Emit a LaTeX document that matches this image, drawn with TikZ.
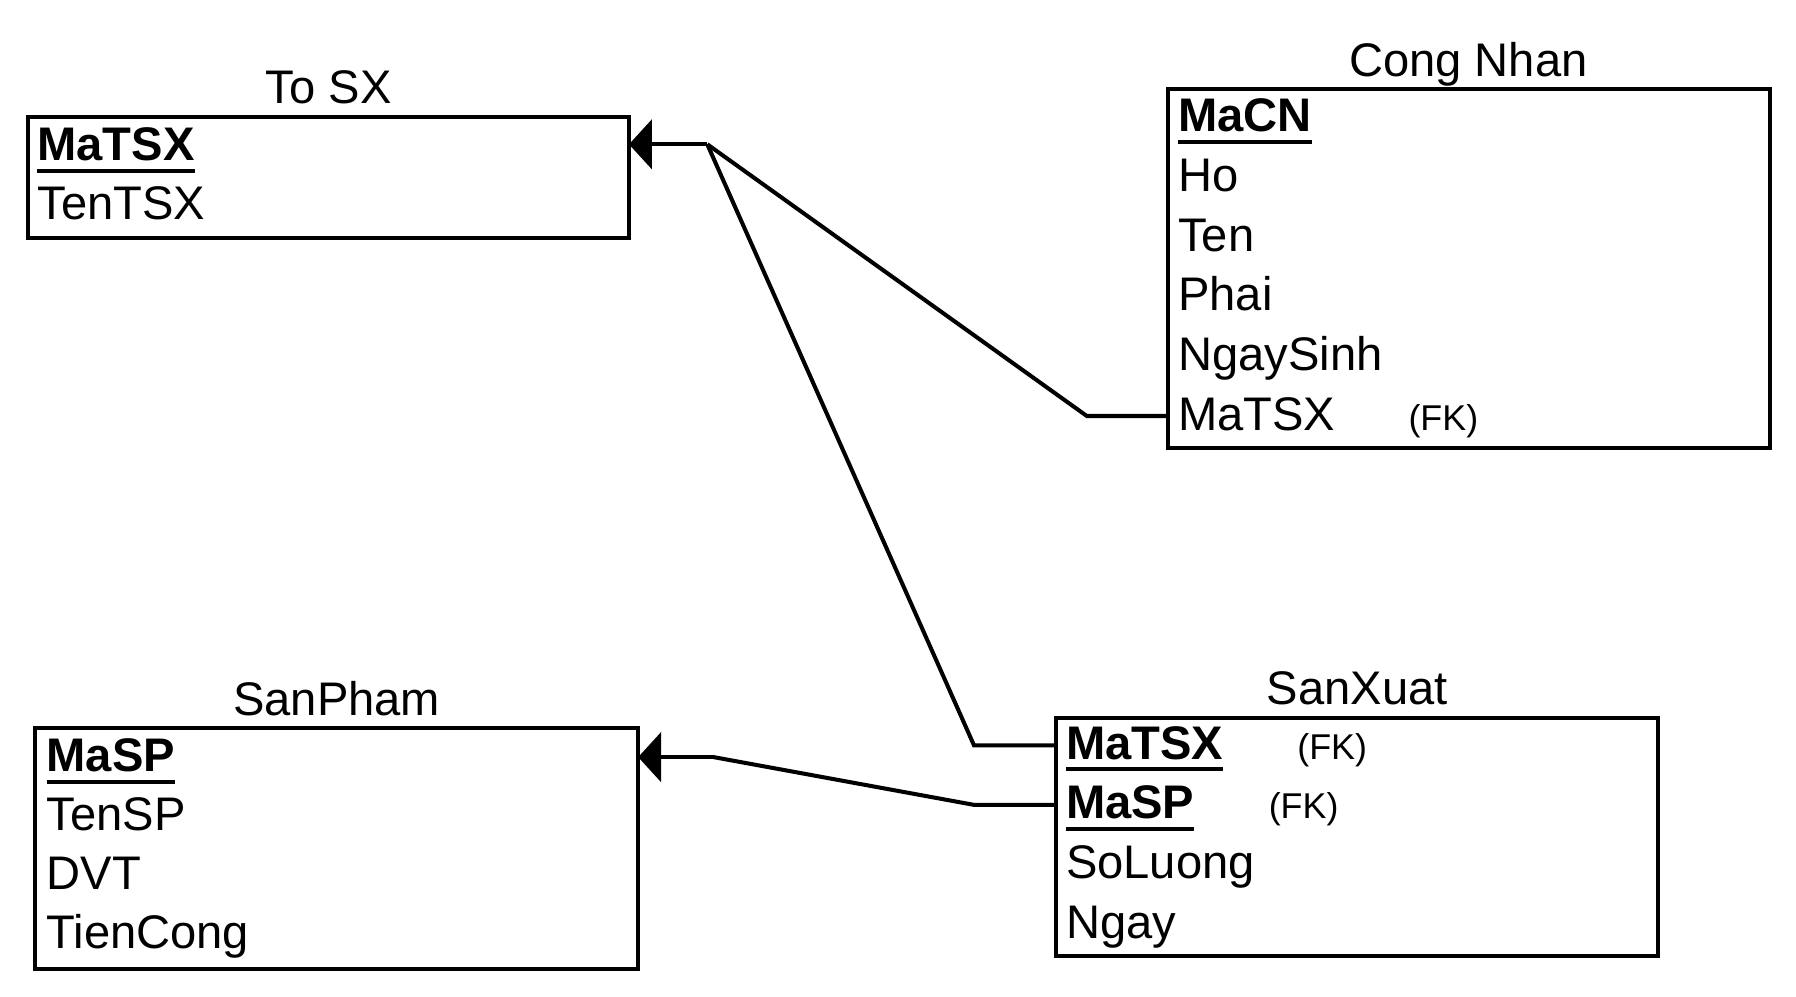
\documentclass[tikz,border=0pt]{standalone}
\usepackage{fontspec}
\setmainfont{Liberation Sans}
\usepackage{tikz}
\usetikzlibrary{positioning,arrows.meta}

\newsavebox{\pkbox}
\newcommand{\pkey}[1]{\sbox{\pkbox}{\textbf{#1}}\rlap{\rule[-3pt]{\wd\pkbox}{1pt}}\usebox{\pkbox}}

\tikzset{
  every node/.style={font=\fontsize{11.7}{14}\selectfont},
  tablebox/.style={draw, line width=1pt, inner sep=0pt, outer sep=0pt},
  title/.style={anchor=base, inner sep=0pt},
  attr/.style={anchor=base west, inner sep=0pt, text height=9pt, text depth=2pt},
  fknote/.style={anchor=base west, inner sep=0pt, font=\fontsize{8.9}{10}\selectfont},
  link/.style={line width=1pt},
  fkarrow/.style={link, -{Triangle[length=2mm,width=4.3mm]}}
}

\begin{document}
\begin{tikzpicture}[x=0.01cm, y=-0.01cm]
  \useasboundingbox (0,0) rectangle (1568,870);

  % Tables
  \node[tablebox, minimum width=5.24cm, minimum height=1.06cm] (tosx) at (287,155) {};
  \node[tablebox, minimum width=5.25cm, minimum height=3.13cm] (congnhan) at (1282.5,234.5) {};
  \node[tablebox, minimum width=5.26cm, minimum height=2.10cm] (sanpham) at (294,741) {};
  \node[tablebox, minimum width=5.25cm, minimum height=2.08cm] (sanxuat) at (1185,730.5) {};

  % Titles
  \node[title] (tosxtitle) at (287,90.5) {To SX};
  \node[title] (congnhantitle) at (1282,67) {Cong Nhan};
  \node[title] (sanphamtitle) at (294,625) {SanPham};
  \node[title] (sanxuattitle) at (1185,615.5) {SanXuat};

  % To SX
  \node[attr] (tsxmatsx) at (32,140.3) {\pkey{MaTSX}};
  \node[attr] (tsxtentsx) at (32,191.6) {TenTSX};

  % Cong Nhan
  \node[attr] (cnmacn) at (1028,115) {\pkey{MaCN}};
  \node[attr] (cnho) at (1028,167.1) {Ho};
  \node[attr] (cnten) at (1028,219.2) {Ten};
  \node[attr] (cnphai) at (1028,271.3) {Phai};
  \node[attr] (cnngaysinh) at (1028,323.4) {NgaySinh};
  \node[attr] (cnmatsx) at (1028,375.5) {MaTSX};
  \node[fknote] (cnfk) at (1229,375.5) {(FK)};

  % SanPham
  \node[attr] (spmasp) at (40,673.7) {\pkey{MaSP}};
  \node[attr] (sptensp) at (40,725.2) {TenSP};
  \node[attr] (spdvt) at (40,776.7) {DVT};
  \node[attr] (sptiencong) at (40,828.2) {TienCong};

  % SanXuat
  \node[attr] (sxmatsx) at (930,663) {\pkey{MaTSX}};
  \node[fknote] (sxfkone) at (1132,663) {(FK)};
  \node[attr] (sxmasp) at (930,715) {\pkey{MaSP}};
  \node[fknote] (sxfktwo) at (1107,715) {(FK)};
  \node[attr] (sxsoluong) at (930,767) {SoLuong};
  \node[attr] (sxngay) at (930,819) {Ngay};

  % Foreign keys
  \coordinate (jtsx) at (617.5,126);
  \coordinate (jsp) at (623,661);
  \draw[link] (congnhan.west |- cnmatsx) -- ++(-71,0) -- (jtsx);
  \draw[link] (sanxuat.west |- sxmatsx) -- ++(-72,0) -- (jtsx);
  \draw[fkarrow] (jtsx) -- (jtsx -| tosx.east);
  \draw[link] (sanxuat.west |- sxmasp) -- ++(-72,0) -- (jsp);
  \draw[fkarrow] (jsp) -- (jsp -| sanpham.east);
\end{tikzpicture}
\end{document}
